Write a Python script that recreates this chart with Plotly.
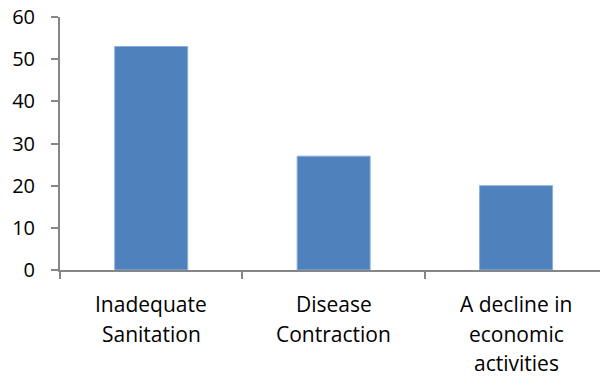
import plotly.graph_objects as go

categories = ["Inadequate Sanitation", "Disease Contraction", "A decline in economic activities"]
label_lines = [
    ["Inadequate", "Sanitation"],
    ["Disease", "Contraction"],
    ["A decline in", "economic", "activities"],
]
values = [53, 27, 20]
y_ticks = [0, 10, 20, 30, 40, 50, 60]

axis_grey = "#868686"
bar_fill = "#4F81BD"
bar_edge = "#8AAEDB"
font = dict(family="Open Sans", size=20, color="#000000")
label_font = dict(family="Open Sans", size=21, color="#000000")

fig = go.Figure(
    go.Bar(
        x=categories,
        y=values,
        width=0.4,
        marker=dict(color=bar_fill, line=dict(color=bar_edge, width=1)),
    )
)

# category labels, one annotation per line for wider line spacing
first_offset = 34
line_gap = 29.5
for cat, lines in zip(categories, label_lines):
    for i, line in enumerate(lines):
        fig.add_annotation(
            x=cat,
            xref="x",
            y=0,
            yref="paper",
            yanchor="middle",
            xanchor="center",
            yshift=-(first_offset + line_gap * i),
            text=line,
            showarrow=False,
            font=label_font,
        )

fig.update_layout(
    width=600,
    height=377,
    margin=dict(l=60, r=0, t=17, b=107),
    paper_bgcolor="white",
    plot_bgcolor="white",
    showlegend=False,
    font=font,
)

fig.update_xaxes(
    type="category",
    range=[-0.5, 2.46],
    showline=True,
    linecolor=axis_grey,
    linewidth=2,
    ticks="outside",
    tickson="boundaries",
    ticklen=7,
    tickwidth=2,
    tickcolor=axis_grey,
    showgrid=False,
    showticklabels=False,
)

fig.update_yaxes(
    range=[0, 60],
    tickvals=y_ticks,
    showline=True,
    linecolor=axis_grey,
    linewidth=2,
    ticks="outside",
    ticklen=7,
    tickwidth=2,
    tickcolor=axis_grey,
    showgrid=False,
    zeroline=False,
    ticklabelstandoff=12,
    tickfont=font,
)

fig.write_html("out.html")
